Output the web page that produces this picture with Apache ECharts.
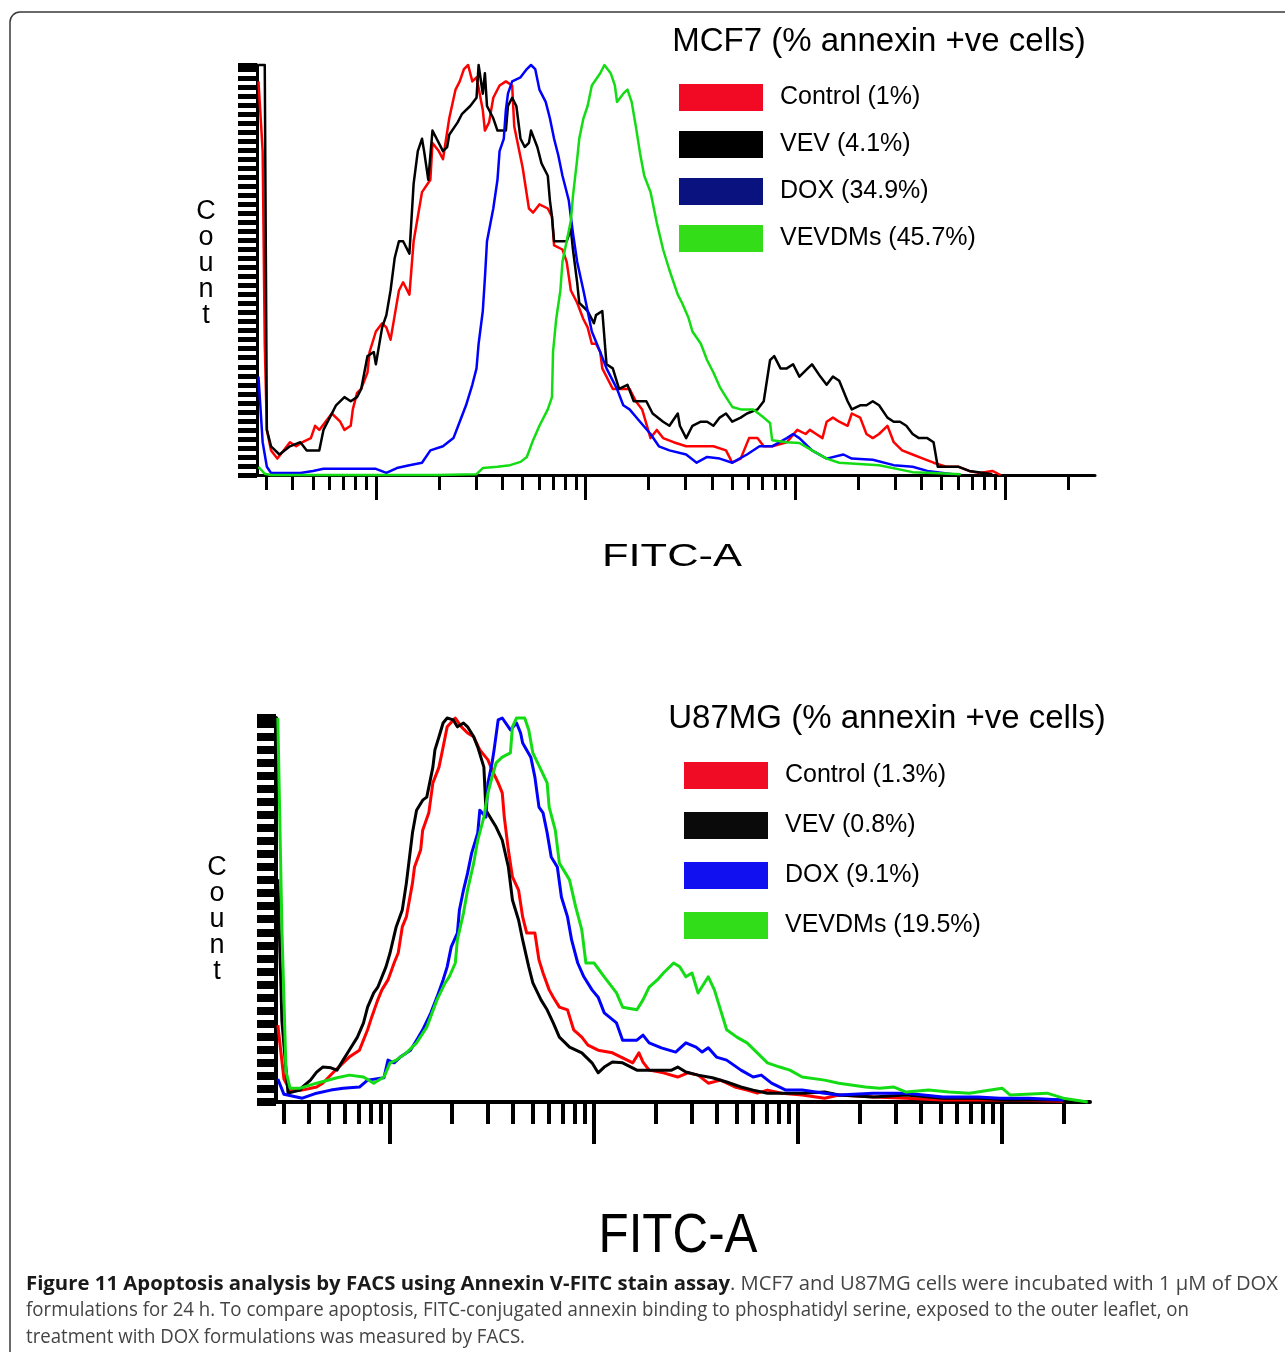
<!DOCTYPE html>
<html>
<head>
<meta charset="UTF-8">
<title>Figure 11 - Annexin V-FITC</title>
<script src="https://cdn.jsdelivr.net/npm/echarts@6/dist/echarts.min.js"></script>
<style>
  body { margin: 0; background: #fff; }
  #main { width: 1285px; height: 1352px; }
</style>
</head>
<body>
<div id="main"></div>
<script type="text/javascript">

  // points are [log10(FITC-A), count as % of the panel maximum]
  var mcf7Control = [[1.44,96],[1.46,79],[1.47,32],[1.48,11],[1.50,6],[1.53,4],[1.56,6],[1.59,8],[1.62,7],[1.65,8],[1.69,9],[1.71,12],[1.73,11],[1.76,13],[1.79,15],[1.83,13],[1.85,11],[1.88,12],[1.89,16],[1.91,20],[1.93,21],[1.96,25],[1.97,30],[2.00,35],[2.03,37],[2.05,36],[2.07,33],[2.09,39],[2.11,45],[2.13,47],[2.16,44],[2.18,57],[2.20,63],[2.22,69],[2.26,72],[2.27,81],[2.30,79],[2.32,77],[2.35,87],[2.38,94],[2.40,96],[2.42,99],[2.44,100],[2.46,96],[2.48,97],[2.51,89],[2.52,84],[2.54,86],[2.56,92],[2.59,95],[2.62,96],[2.65,95],[2.66,85],[2.70,75],[2.73,65],[2.75,64],[2.78,66],[2.82,65],[2.84,63],[2.85,56],[2.89,55],[2.91,52],[2.93,45],[2.96,42],[2.99,38],[3.01,36],[3.03,32],[3.05,32],[3.07,30],[3.08,26],[3.11,23],[3.13,21],[3.18,21],[3.21,21],[3.24,18],[3.27,16],[3.31,9],[3.34,11],[3.37,9],[3.42,8],[3.48,7],[3.55,7],[3.61,7],[3.67,6],[3.70,3],[3.74,4],[3.78,9],[3.82,9],[3.85,7],[3.89,7],[3.96,8],[4.01,11],[4.05,10],[4.07,11],[4.10,10],[4.13,9],[4.15,13],[4.18,14],[4.21,13],[4.25,12],[4.27,15],[4.31,14],[4.34,10],[4.37,9],[4.40,10],[4.44,12],[4.47,8],[4.51,6],[4.56,5],[4.61,4],[4.66,3],[4.72,2],[4.78,2],[4.83,1],[4.88,0.5],[4.94,1],[4.98,0]];
  var mcf7Vev = [[1.44,100],[1.47,100],[1.48,11],[1.50,7],[1.54,5],[1.59,7],[1.64,8],[1.67,6],[1.73,6],[1.75,11],[1.78,14],[1.81,17],[1.85,19],[1.88,18],[1.91,19],[1.93,21],[1.96,29],[1.99,30],[2.00,27],[2.03,36],[2.05,39],[2.07,45],[2.09,53],[2.11,57],[2.13,57],[2.16,54],[2.18,71],[2.20,79],[2.22,82],[2.23,79],[2.25,72],[2.27,84],[2.29,82],[2.32,79],[2.34,80],[2.35,83],[2.39,86],[2.41,88],[2.45,90],[2.48,92],[2.49,100],[2.51,93],[2.52,98],[2.53,90],[2.56,87],[2.58,84],[2.62,84],[2.63,90],[2.65,92],[2.67,90],[2.69,82],[2.71,80],[2.73,81],[2.74,84],[2.77,80],[2.79,76],[2.82,73],[2.83,67],[2.84,63],[2.85,57],[2.88,57],[2.91,57],[2.93,60],[2.94,55],[2.96,47],[2.97,42],[3.01,40],[3.04,37],[3.05,39],[3.08,40],[3.10,27],[3.13,26],[3.16,21],[3.20,22],[3.23,18],[3.26,18],[3.29,18],[3.32,15],[3.37,13],[3.40,12],[3.44,15],[3.45,12],[3.48,9],[3.51,12],[3.55,13],[3.58,13],[3.61,12],[3.64,14],[3.67,15],[3.70,13],[3.74,14],[3.77,15],[3.82,16],[3.85,18],[3.88,28],[3.90,29],[3.93,26],[3.96,26],[3.99,27],[4.02,24],[4.06,26],[4.08,27],[4.12,24],[4.15,22],[4.18,24],[4.21,23],[4.25,18],[4.27,16],[4.31,17],[4.34,17],[4.37,18],[4.40,17],[4.44,14],[4.47,13],[4.50,13],[4.53,12],[4.56,10],[4.59,9],[4.63,9],[4.66,8],[4.68,2],[4.72,2],[4.78,2],[4.83,1],[4.90,0.5],[4.94,0.2]];
  var mcf7Dox = [[1.44,24],[1.46,8],[1.48,2],[1.50,0.5],[1.64,0.5],[1.70,1],[1.75,1.5],[2.00,1.5],[2.05,0.5],[2.10,1.7],[2.16,2.4],[2.22,3],[2.26,6],[2.32,7],[2.37,9],[2.40,13],[2.43,17],[2.46,22],[2.48,26],[2.49,32],[2.51,40],[2.52,48],[2.53,57],[2.56,65],[2.58,72],[2.59,79],[2.61,82],[2.62,89],[2.63,93],[2.65,96],[2.69,97],[2.72,99],[2.74,100],[2.76,99],[2.78,94],[2.81,91],[2.83,87],[2.85,82],[2.87,78],[2.89,73],[2.92,67],[2.94,59],[2.96,52],[2.99,45],[3.01,40],[3.03,35],[3.07,30],[3.10,26],[3.15,21],[3.18,17],[3.21,16],[3.26,13],[3.31,10],[3.35,7],[3.40,6],[3.48,5],[3.53,3],[3.58,4.4],[3.64,4],[3.70,3],[3.77,5],[3.83,7],[3.89,7],[3.96,9],[3.99,10],[4.02,9],[4.08,6],[4.15,4],[4.23,5],[4.27,4],[4.37,3.7],[4.47,2.4],[4.56,2],[4.63,1],[4.75,0.2]];
  var mcf7Vevdms = [[1.44,2],[1.47,0.3],[1.50,0],[2.29,0],[2.48,0.2],[2.51,1.7],[2.58,2],[2.64,2.4],[2.69,3.2],[2.72,4.4],[2.75,8.5],[2.78,12],[2.82,16],[2.84,19],[2.845,30],[2.86,38],[2.88,45],[2.89,52],[2.91,57],[2.93,62],[2.94,68],[2.96,77],[2.97,82],[2.99,87],[3.01,90],[3.03,95],[3.07,98],[3.09,100],[3.12,98],[3.14,95],[3.15,91],[3.18,93],[3.20,94],[3.22,91],[3.24,85],[3.26,78.5],[3.28,73],[3.31,69],[3.34,61.5],[3.37,55],[3.40,50],[3.44,44],[3.46,42],[3.49,38.5],[3.51,35],[3.55,32],[3.58,28],[3.61,25],[3.64,21.5],[3.67,19],[3.70,16.6],[3.74,16],[3.80,16],[3.85,14],[3.88,12.7],[3.89,8.5],[3.96,8],[4.02,7.8],[4.08,6],[4.15,4],[4.21,3],[4.40,2.4],[4.56,0.7],[4.66,0.5],[4.79,0.2]];

  var u87Control = [[1.45,20],[1.48,6],[1.51,3],[1.57,3.1],[1.64,3.9],[1.67,4.9],[1.72,7.6],[1.77,10.2],[1.80,11.7],[1.85,13.5],[1.89,18.8],[1.91,22.1],[1.94,26.6],[1.96,29.2],[1.99,31.8],[2.02,36.2],[2.04,38.8],[2.06,45.6],[2.08,48.2],[2.11,57],[2.12,61.2],[2.15,65.6],[2.16,70.8],[2.19,75.3],[2.21,83.1],[2.24,87.2],[2.26,92.4],[2.28,97.7],[2.32,100],[2.35,97.7],[2.38,96.1],[2.41,95.1],[2.44,91.7],[2.48,89.1],[2.50,86.5],[2.53,83.1],[2.55,80.5],[2.56,74.2],[2.58,65.6],[2.60,58.6],[2.63,55.2],[2.65,48.2],[2.67,44],[2.71,44],[2.73,37],[2.75,33.6],[2.78,29.2],[2.80,27.3],[2.83,24.7],[2.87,24],[2.90,18.8],[2.94,16.9],[2.97,14.8],[3.02,13.5],[3.09,12.8],[3.14,11.5],[3.19,10.2],[3.22,12.8],[3.24,10.4],[3.27,8.3],[3.34,7.6],[3.41,6.5],[3.46,7.6],[3.51,7],[3.56,4.9],[3.62,5.7],[3.69,3.9],[3.75,3.1],[3.80,2.3],[3.85,3.1],[3.92,2.3],[4.02,1.8],[4.13,1],[4.20,1.8],[4.37,1.3],[4.53,1],[4.71,0.5],[5.04,0.5],[5.30,0.2]];
  var u87Vev = [[1.45,58],[1.47,21],[1.50,2.3],[1.56,3.1],[1.57,3.9],[1.61,5.7],[1.64,7.8],[1.67,9.1],[1.71,8.9],[1.74,8.3],[1.77,10.9],[1.80,13.5],[1.84,16.9],[1.87,20.6],[1.89,24.7],[1.92,28.4],[1.94,29.9],[1.98,35.2],[2.00,38.8],[2.03,45.6],[2.06,50],[2.08,57],[2.11,70.1],[2.13,76],[2.16,78.6],[2.18,79.4],[2.21,87.2],[2.22,91.7],[2.24,95.1],[2.26,98.7],[2.28,100],[2.31,99.5],[2.33,97.7],[2.36,98.7],[2.38,97.7],[2.41,95.1],[2.43,92.4],[2.46,87.2],[2.47,76],[2.49,74.2],[2.52,71.6],[2.55,68.2],[2.58,61.2],[2.60,52.6],[2.63,47.4],[2.65,42.2],[2.68,35.2],[2.70,31],[2.74,26.6],[2.77,24],[2.80,20.6],[2.83,16.9],[2.88,14.3],[2.94,12.8],[2.99,10.2],[3.02,7.6],[3.05,9.1],[3.09,10.4],[3.14,10.2],[3.21,8.3],[3.31,8.3],[3.38,8.3],[3.41,9.1],[3.45,7.8],[3.51,7],[3.58,6.3],[3.65,5.2],[3.72,3.9],[3.78,3.1],[3.85,2.3],[4.02,2.3],[4.13,2.6],[4.20,1.8],[4.37,1.3],[4.53,1.8],[4.71,1],[4.88,1],[5.04,0.5],[5.30,0.5],[5.42,0]];
  var u87Dox = [[1.45,6],[1.48,2],[1.57,1],[1.64,2.3],[1.71,3.1],[1.77,3.6],[1.85,3.9],[1.89,5.7],[1.97,6.3],[1.99,10.9],[2.02,10.2],[2.05,11.7],[2.10,13.5],[2.13,16.1],[2.16,18.8],[2.20,23.2],[2.23,27.3],[2.26,31.8],[2.28,35.2],[2.30,40.4],[2.33,44],[2.34,50],[2.36,55.2],[2.38,59.6],[2.40,64.8],[2.43,70.1],[2.44,76],[2.47,74.2],[2.48,83.1],[2.50,88.3],[2.51,91.7],[2.53,99.5],[2.55,100],[2.59,96.9],[2.62,98.7],[2.64,96.1],[2.65,93.5],[2.69,89.8],[2.71,84.6],[2.73,76.8],[2.75,75.3],[2.77,70.1],[2.79,63.8],[2.82,61.2],[2.84,53.4],[2.87,48.2],[2.89,42.2],[2.92,36.2],[2.95,32.6],[2.99,29.2],[3.02,27.3],[3.05,23.2],[3.11,20.6],[3.14,16.1],[3.21,16.1],[3.24,17.4],[3.27,15.4],[3.33,14.1],[3.40,13],[3.45,15.4],[3.50,14.3],[3.53,13],[3.56,14.1],[3.60,11.7],[3.65,10.9],[3.72,8.3],[3.78,6.5],[3.82,7],[3.87,4.9],[3.94,3.1],[4.02,3.1],[4.13,2.3],[4.20,1.8],[4.37,2.3],[4.53,2.3],[4.71,1.3],[4.88,1.3],[4.99,1],[5.13,1],[5.30,0.5]];
  var u87Vevdms = [[1.45,100],[1.47,45],[1.49,8],[1.51,3.6],[1.56,3.6],[1.64,4.9],[1.74,6.3],[1.80,7],[1.87,6.5],[1.92,4.9],[1.97,6.5],[2.00,10.2],[2.03,10.9],[2.08,12.8],[2.13,15.4],[2.18,19.5],[2.23,26.6],[2.27,31],[2.29,32.6],[2.32,36.2],[2.33,42.2],[2.36,49.2],[2.38,55.2],[2.41,62.2],[2.43,68.2],[2.46,74.2],[2.48,80.5],[2.50,84.6],[2.52,88.3],[2.55,89.8],[2.59,90.9],[2.60,97.7],[2.62,100],[2.66,100],[2.68,96.9],[2.70,90.9],[2.74,86.5],[2.77,83.1],[2.78,76.8],[2.81,70.8],[2.83,62.2],[2.86,59.6],[2.88,57.8],[2.91,50.8],[2.94,44.8],[2.96,36.2],[3.00,36.2],[3.05,32.6],[3.11,28.4],[3.14,24.7],[3.21,24],[3.24,26.6],[3.27,29.9],[3.31,31.8],[3.34,33.6],[3.39,36.2],[3.42,35.2],[3.45,32.6],[3.48,33.6],[3.51,28.4],[3.56,32.6],[3.59,29.2],[3.62,24],[3.65,18.8],[3.70,16.9],[3.75,15.4],[3.80,12.8],[3.85,10.2],[3.91,9.1],[3.96,8.3],[4.02,6.5],[4.13,5.7],[4.20,4.9],[4.33,3.9],[4.40,3.6],[4.47,3.9],[4.53,2.6],[4.64,3.1],[4.74,2.6],[4.84,2.3],[5.00,3.6],[5.04,1.8],[5.22,2.3],[5.30,1],[5.42,0]];

  var mcf7Names = ['Control (1%)', 'VEV (4.1%)', 'DOX (34.9%)', 'VEVDMs (45.7%)'];
  var u87Names = ['Control (1.3%)', 'VEV (0.8%)', 'DOX (9.1%)', 'VEVDMs (19.5%)'];
  var decades = [2, 3, 4, 5];

  var capBold = 'Figure 11 Apoptosis analysis by FACS using Annexin V-FITC stain assay';
  var capLine1 = '. MCF7 and U87MG cells were incubated with 1 \u00b5M of DOX';
  var capLine2 = 'formulations for 24 h. To compare apoptosis, FITC-conjugated annexin binding to phosphatidyl serine, exposed to the outer leaflet, on';
  var capLine3 = 'treatment with DOX formulations was measured by FACS.';

  var curveColors = ['#ff0000', '#000000', '#0000ff', '#14dc14'];
  var boxColors1 = ['#f20a24', '#000000', '#0a1280', '#33dd18'];
  var boxColors2 = ['#f00c25', '#0a0a0a', '#1010f0', '#30dd18'];

  //log minor ticks 3..9 of each decade
  function minorTicks(lo, hi) {
    var out = [];
    for (var k = 1; k <= 5; k++) {
      for (var n = 2; n <= 9; n++) {
        var v = Math.log10(n * Math.pow(10, k));
        if (v > lo && v < hi) out.push(v);
      }
    }
    return out;
  }

  var ctx = document.createElement('canvas').getContext('2d');
  function textWidth(s, font) {
    ctx.font = font;
    return ctx.measureText(s).width;
  }

  function xAxes(grid, lo, hi, minorLen, majorLen, w) {
    return [
      {
        type: 'value', gridIndex: grid, min: lo, max: hi, position: 'bottom',
        axisLine: { show: true, onZero: false, lineStyle: { color: '#000', width: w } },
        axisTick: { show: true, length: minorLen, customValues: minorTicks(lo, hi), lineStyle: { color: '#000', width: w } },
        axisLabel: { show: false }, splitLine: { show: false }
      },
      {
        type: 'value', gridIndex: grid, min: lo, max: hi, position: 'bottom',
        axisLine: { show: false, onZero: false },
        axisTick: { show: true, length: majorLen, customValues: decades, lineStyle: { color: '#000', width: w } },
        axisLabel: { show: false }, splitLine: { show: false }
      }
    ];
  }

  function yAxis(grid, interval, tickW, lineW) {
    return {
      type: 'value', gridIndex: grid, min: 0, max: 100, interval: interval, position: 'left',
      axisLine: { show: true, lineStyle: { color: '#000', width: lineW } },
      axisTick: { show: true, length: 19, lineStyle: { color: '#000', width: tickW } },
      axisLabel: { show: false }, splitLine: { show: false }
    };
  }

  function curve(name, data, xi, yi, color, boxColor, width) {
    return {
      name: name, type: 'line', data: data, xAxisIndex: xi, yAxisIndex: yi,
      symbol: 'none', showSymbol: false, clip: false, silent: true,
      lineStyle: { color: color, width: width, join: 'round' },
      itemStyle: { color: boxColor },
      emphasis: { disabled: true }
    };
  }

  function legend(names, left, top, gap) {
    return {
      data: names, orient: 'vertical', left: left, top: top, padding: 0,
      icon: 'rect', itemWidth: 84, itemHeight: 27, itemGap: gap,
      selectedMode: false,
      itemStyle: { borderWidth: 0 },
      textStyle: { fontFamily: 'Liberation Sans', fontSize: 25, color: '#000', padding: [0, 0, 0, 12] }
    };
  }

  var mcf7Data = [mcf7Control, mcf7Vev, mcf7Dox, mcf7Vevdms];
  var u87Data = [u87Control, u87Vev, u87Dox, u87Vevdms];
  var series = [];
  for (var i = 0; i < 4; i++) {
    series.push(curve(mcf7Names[i], mcf7Data[i], 0, 0, curveColors[i], boxColors1[i], 2.5));
    series.push(curve(u87Names[i], u87Data[i], 2, 1, curveColors[i], boxColors2[i], 3));
  }

  // caption, squeezed to the measured line lengths
  var capFont = '20px "Open Sans"';
  var capFontB = 'bold 20px "Open Sans"';
  var kB = 704 / textWidth(capBold, capFontB);
  var k1 = 548 / textWidth(capLine1, capFont);
  var k2 = 1163 / textWidth(capLine2, capFont);
  var k3 = 499 / textWidth(capLine3, capFont);

  var fitcSmall = '32px "Liberation Sans"';
  var fitcBig = '56px "Liberation Sans"';
  var kF1 = 140 / textWidth('FITC-A', fitcSmall);
  var kF2 = 159 / textWidth('FITC-A', fitcBig);

  function txt(x, y, s, font, align, fill, sx) {
    return {
      type: 'text', x: x, y: y, scaleX: sx || 1, silent: true,
      style: { text: s, font: font, fill: fill || '#000', textAlign: align || 'center', textVerticalAlign: 'middle' }
    };
  }

  var option = {
    animation: false,
    backgroundColor: '#fff',
    grid: [
      { left: 257, top: 65, width: 838, height: 410 },
      { left: 276, top: 718, width: 814, height: 384 }
    ],
    xAxis: xAxes(0, 1.433, 5.43, 15, 25, 3).concat(xAxes(1, 1.441, 5.431, 22, 42, 4)),
    yAxis: [yAxis(0, 2.2, 5, 3), yAxis(1, 3.4, 8, 4)],
    legend: [
      legend(mcf7Names, 679, 84, 20),
      legend(u87Names, 684, 762, 23)
    ],
    graphic: [
      {
        type: 'rect', silent: true,
        shape: { x: 10, y: 12, width: 1400, height: 1500, r: 10 },
        style: { fill: 'none', stroke: '#3a3a3a', lineWidth: 1.5 }
      },
      txt(879, 42, 'MCF7 (% annexin +ve cells)', '33px "Liberation Sans"'),
      txt(887, 719, 'U87MG (% annexin +ve cells)', '33px "Liberation Sans"'),
      {
        type: 'text', x: 206, y: 199, silent: true,
        style: { text: 'C\no\nu\nn\nt', font: '27px "Liberation Sans"', lineHeight: 26, fill: '#000', textAlign: 'center', textVerticalAlign: 'top' }
      },
      {
        type: 'text', x: 217, y: 855, silent: true,
        style: { text: 'C\no\nu\nn\nt', font: '27px "Liberation Sans"', lineHeight: 26, fill: '#000', textAlign: 'center', textVerticalAlign: 'top' }
      },
      txt(672, 557, 'FITC-A', fitcSmall, 'center', '#000', kF1),
      txt(678, 1237, 'FITC-A', fitcBig, 'center', '#000', kF2),
      txt(26, 1284, capBold, capFontB, 'left', '#1a1a1a', kB),
      txt(730, 1284, capLine1, capFont, 'left', '#444', k1),
      txt(26, 1310, capLine2, capFont, 'left', '#444', k2),
      txt(26, 1337, capLine3, capFont, 'left', '#444', k3)
    ],
    series: series
  };

  var myChart = echarts.init(document.getElementById('main'));
  myChart.setOption(option);

</script>
</body>
</html>
